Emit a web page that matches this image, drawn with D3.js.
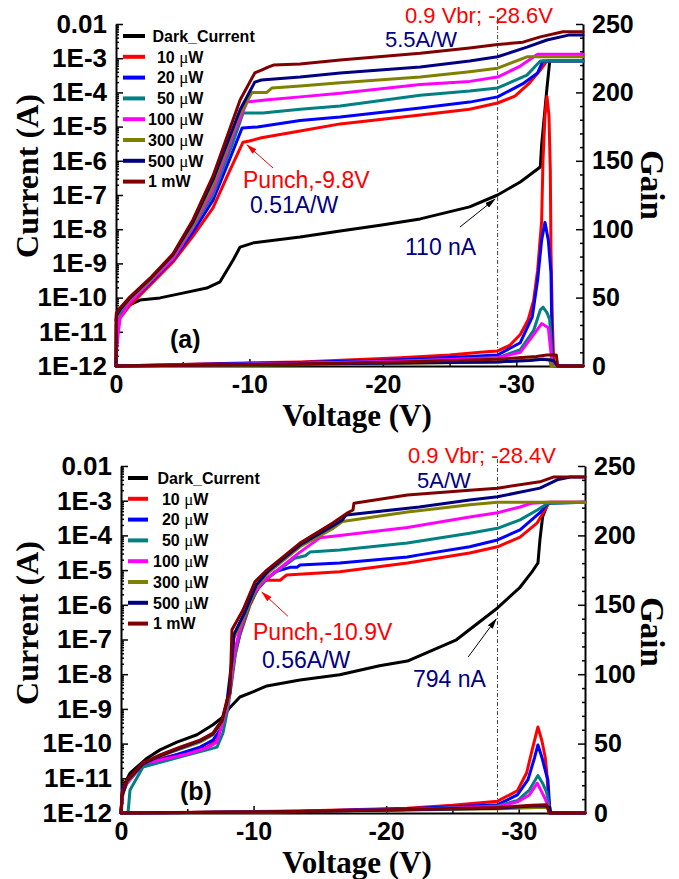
<!DOCTYPE html>
<html>
<head>
<meta charset="utf-8">
<script src="https://cdn.jsdelivr.net/npm/d3@7"></script>
<style>
  body { margin: 0; background: #fff; }
  svg text { white-space: pre; }
</style>
</head>
<body>
<svg id="chart" width="679" height="879"></svg>
<script>
// ---- tick values / labels ----
const voltageTicks = [0, -10, -20, -30];
const voltageMinorTicks = [-5, -15, -25];
const currentTicks = [1e-12, 1e-11, 1e-10, 1e-9, 1e-8, 1e-7, 1e-6, 1e-5, 1e-4, 1e-3, 1e-2];
const currentLabels = ["1E-12", "1E-11", "1E-10", "1E-9", "1E-8", "1E-7", "1E-6", "1E-5", "1E-4", "1E-3", "0.01"];
const gainTicks = [0, 50, 100, 150, 200, 250];
const gainMinorTicks = [10, 20, 30, 40, 60, 70, 80, 90, 110, 120, 130, 140, 160, 170, 180, 190, 210, 220, 230, 240];
const seriesNames = [" Dark_Current", "  10 μW", "  20 μW", "  50 μW", "100 μW", "300 μW", "500 μW", "1 mW"];
const seriesColors = ["#000000", "#ff0000", "#0000ff", "#008080", "#ff00ff", "#808000", "#000080", "#800000"];

// ---- panel (a): [voltage, current A] ----
const darkA = [[0,2.2e-11],[-0.15,3.8e-11],[-0.52,5.0e-11],[-1.8,8.5e-11],[-3.3,9.8e-11],[-5.0,1.35e-10],[-6.8,1.9e-10],[-7.8,2.9e-10],[-8.8,1.3e-9],[-9.3,3.0e-9],[-10.3,4.0e-9],[-13.8,5.9e-9],[-16.8,8.9e-9],[-19.8,1.3e-8],[-22.8,2.0e-8],[-26.5,4.5e-8],[-28.6,1.0e-7],[-30.3,2.4e-7],[-31.8,6.6e-7],[-31.9,2.9e-6],[-32.3,1.35e-4],[-32.5,7.8e-4]];
const curA10 = [[0,1e-12],[-0.07,8.1e-12],[-0.3,2.5e-11],[-1.05,6.0e-11],[-2.55,2.3e-10],[-4.27,1.1e-9],[-5.77,6.3e-9],[-7.27,4.2e-8],[-8.55,5.4e-7],[-9.52,3.5e-6],[-10.0,3.8e-6],[-10.9,4.7e-6],[-13.8,7.4e-6],[-16.8,1.2e-5],[-22.8,2.2e-5],[-26.5,3.2e-5],[-28.6,4.9e-5],[-29.9,7.8e-5],[-31.0,1.9e-4],[-31.8,4.5e-4],[-32.3,8.3e-4],[-35,8.3e-4]];
const curA20 = [[0,1e-12],[-0.07,1.0e-11],[-0.3,3.1e-11],[-1.05,7.4e-11],[-2.55,2.7e-10],[-4.27,1.3e-9],[-5.77,8.3e-9],[-7.27,7.1e-8],[-8.55,1.2e-6],[-9.45,9.1e-6],[-10.6,9.8e-6],[-13.8,1.5e-5],[-16.8,1.9e-5],[-22.8,3.5e-5],[-26.5,5.2e-5],[-28.6,7.4e-5],[-30.5,1.8e-4],[-31.6,3.7e-4],[-32.0,8.3e-4],[-35,8.3e-4]];
const curA50 = [[0,1e-12],[-0.02,1.6e-11],[-0.3,3.8e-11],[-1.05,8.5e-11],[-2.55,3.2e-10],[-4.27,1.4e-9],[-5.77,1.1e-8],[-7.27,1.0e-7],[-8.7,2.9e-6],[-9.52,2.5e-5],[-11.0,2.5e-5],[-13.8,3.2e-5],[-16.8,4.0e-5],[-22.8,8.3e-5],[-26.5,1.1e-4],[-28.6,1.35e-4],[-30.8,3.2e-4],[-31.8,8.3e-4],[-35,8.3e-4]];
const curA100 = [[0,1e-12],[-0.07,4.1e-12],[-0.3,2.5e-11],[-1.05,7.4e-11],[-2.55,2.9e-10],[-4.27,1.4e-9],[-5.77,1.15e-8],[-7.27,1.4e-7],[-8.92,7.9e-6],[-9.82,5.2e-5],[-11.2,6.0e-5],[-13.8,7.4e-5],[-16.8,9.5e-5],[-22.8,1.7e-4],[-26.5,2.1e-4],[-28.6,2.8e-4],[-30.3,5.9e-4],[-31.6,1.3e-3],[-35,1.3e-3]];
const curA300 = [[0,1e-12],[-0.02,2.5e-11],[-0.3,4.1e-11],[-1.05,9.1e-11],[-2.55,3.2e-10],[-4.27,1.7e-9],[-5.77,1.3e-8],[-7.27,1.95e-7],[-9.15,1.8e-5],[-10.2,1.0e-4],[-11.3,1.0e-4],[-11.7,1.35e-4],[-13.8,1.55e-4],[-16.8,1.9e-4],[-22.8,2.8e-4],[-26.5,4.0e-4],[-28.6,5.1e-4],[-30.8,1.1e-3],[-35,1.1e-3]];
const curA500 = [[0,1e-12],[-0.02,2.9e-11],[-0.3,4.4e-11],[-1.05,9.8e-11],[-2.55,3.5e-10],[-4.27,1.8e-9],[-5.77,1.6e-8],[-7.27,2.8e-7],[-9.3,3.1e-5],[-10.4,2.0e-4],[-10.9,2.3e-4],[-13.8,2.8e-4],[-16.8,3.7e-4],[-22.8,5.5e-4],[-26.5,8.3e-4],[-28.6,1.1e-3],[-30.8,2.1e-3],[-32.3,3.4e-3],[-34.0,4.8e-3],[-35,4.8e-3]];
const curA1m = [[0,1e-12],[-0.02,3.5e-11],[-0.3,5.0e-11],[-1.05,1.05e-10],[-2.55,3.7e-10],[-4.27,1.9e-9],[-5.77,1.9e-8],[-7.27,3.6e-7],[-9.3,6.0e-5],[-10.4,3.7e-4],[-10.9,4.5e-4],[-11.4,5.5e-4],[-11.8,6.3e-4],[-13.8,6.8e-4],[-16.8,8.9e-4],[-22.8,1.4e-3],[-26.5,2.0e-3],[-28.6,2.5e-3],[-30.5,2.95e-3],[-31.8,4.2e-3],[-33.5,5.9e-3],[-35,5.9e-3]];

// ---- panel (a): [voltage, gain] ----
const gainA10 = [[0,0],[-6.3,1.5],[-13.8,3],[-21.3,6],[-25,8],[-27.3,10],[-28.6,11],[-29.5,15],[-30.3,23],[-30.9,34],[-31.3,48],[-31.6,70],[-31.9,106],[-32.0,150],[-32.15,183],[-32.3,197],[-32.45,183],[-32.55,143],[-32.6,85],[-32.7,34],[-32.8,4],[-32.9,0],[-35,0]];
const gainA20 = [[0,0],[-6.3,1.2],[-13.8,2.5],[-21.3,4.5],[-26.5,7],[-28.6,8],[-30.3,17],[-31.2,36],[-31.6,63],[-31.9,92],[-32.15,105],[-32.4,92],[-32.6,68],[-32.7,4],[-32.8,0],[-35,0]];
const gainA50 = [[0,0],[-13.8,2],[-21.3,3.5],[-28.6,6],[-30.3,12],[-31.3,26],[-31.8,41],[-32.0,43],[-32.3,39],[-32.5,34],[-32.7,4],[-32.8,0],[-35,0]];
const gainA100 = [[0,0],[-13.8,2],[-21.3,3.5],[-28.6,6],[-30.3,10],[-31.3,23],[-31.9,31],[-32.4,28],[-32.7,0],[-35,0]];
const gainA300 = [[0,0],[-13.8,1],[-28.6,3],[-31.8,5],[-32.5,5],[-32.6,0],[-35,0]];
const gainA500 = [[0,0],[-13.8,1.5],[-28.6,3],[-31.0,4],[-32.0,5],[-32.8,4],[-33.1,0],[-35,0]];
const gainA1m = [[0,0],[-13.8,1.5],[-21.3,3],[-28.6,5],[-31.5,7],[-32.3,8],[-33.0,8],[-33.1,0],[-35,0]];

// ---- panel (b): [voltage, current A] ----
const darkB = [[0,1e-12],[-0.08,3.3e-12],[-0.3,7.3e-12],[-0.68,1.4e-11],[-1.96,3.8e-11],[-2.94,6.6e-11],[-4.22,1.1e-10],[-5.73,1.8e-10],[-6.94,3.5e-10],[-7.69,5.9e-10],[-8.22,1.1e-9],[-8.97,2.2e-9],[-9.95,3.1e-9],[-11.0,4.6e-9],[-13.5,6.8e-9],[-16.5,9.6e-9],[-19.5,1.75e-8],[-21.6,2.4e-8],[-25.3,9.8e-8],[-28.4,8.1e-7],[-30.1,3.2e-6],[-31.0,8.9e-6],[-31.45,1.6e-5],[-31.6,7.4e-5],[-31.8,3.4e-4],[-32.2,8.5e-4]];
const curB10 = [[0,1e-12],[-0.15,4.6e-12],[-0.45,7.3e-12],[-1.66,2.8e-11],[-2.94,3.8e-11],[-4.98,5.4e-11],[-6.49,7.9e-11],[-7.24,1.26e-10],[-7.62,3.9e-10],[-7.99,1.1e-9],[-8.22,3.5e-9],[-8.52,2.6e-8],[-8.97,1.35e-7],[-9.73,9.8e-7],[-10.33,3.0e-6],[-10.71,5.1e-6],[-12.0,5.1e-6],[-12.2,5.9e-6],[-12.5,7.2e-6],[-16.5,8.9e-6],[-21.6,1.6e-5],[-26.3,3.1e-5],[-28.4,4.7e-5],[-30.1,8.9e-5],[-31.4,2.3e-4],[-32.2,7.6e-4],[-32.35,9e-4],[-35,9e-4]];
const curB20 = [[0,1e-12],[-0.15,5.6e-12],[-1.66,2.4e-11],[-5.96,7.9e-11],[-6.94,1.26e-10],[-7.47,2.5e-10],[-7.99,1.1e-9],[-8.22,3.1e-9],[-8.6,4.4e-8],[-8.97,1.65e-7],[-9.73,1.2e-6],[-10.33,2.9e-6],[-10.9,5.1e-6],[-11.6,8.9e-6],[-12.75,1.2e-5],[-13.27,1.2e-5],[-13.5,1.4e-5],[-16.5,1.6e-5],[-21.6,2.4e-5],[-22.5,2.75e-5],[-26.3,4.7e-5],[-28.4,7.4e-5],[-30.1,1.45e-4],[-31.6,4.5e-4],[-32.2,8.5e-4],[-35,9e-4]];
const curB50 = [[0,1e-12],[-0.53,1e-12],[-0.68,4.6e-12],[-1.66,2.1e-11],[-4.98,4.7e-11],[-6.49,6.6e-11],[-7.24,7.9e-11],[-7.69,2.0e-10],[-8.07,1.07e-9],[-8.37,6.8e-9],[-8.67,5.0e-8],[-9.05,1.9e-7],[-9.8,1.3e-6],[-10.4,3.2e-6],[-10.8,4.9e-6],[-12.0,1.07e-5],[-13.1,2.2e-5],[-13.9,2.6e-5],[-14.25,3.3e-5],[-16.5,3.8e-5],[-21.6,6.0e-5],[-26.3,1.15e-4],[-28.4,1.6e-4],[-30.1,2.8e-4],[-31.4,5.4e-4],[-32.2,8.5e-4],[-35,9e-4]];
const curB100 = [[0,1e-12],[-0.15,4e-12],[-0.45,7e-12],[-1.66,2.6e-11],[-4.98,5.0e-11],[-6.49,7.5e-11],[-7.24,1.1e-10],[-7.62,3.5e-10],[-7.99,1.0e-9],[-8.22,3.5e-9],[-8.6,5.0e-8],[-8.97,1.9e-7],[-9.73,1.4e-6],[-10.33,3.0e-6],[-10.71,4.6e-6],[-12.0,1.15e-5],[-13.5,3.3e-5],[-15.0,8.5e-5],[-16.5,1.0e-4],[-21.6,1.7e-4],[-26.3,3.4e-4],[-28.4,4.5e-4],[-30.1,6.6e-4],[-31.0,8.5e-4],[-32.2,9e-4],[-35,9e-4]];
const curB300 = [[0,1e-12],[-0.08,2.9e-12],[-0.45,7.8e-12],[-1.66,2.6e-11],[-2.94,4.4e-11],[-4.45,7.0e-11],[-5.96,1.1e-10],[-6.94,1.8e-10],[-7.62,4.2e-10],[-7.99,1.3e-9],[-8.14,2.5e-9],[-8.37,1.9e-8],[-8.52,1.1e-7],[-9.35,5.4e-7],[-10.2,3.2e-6],[-11.1,8.3e-6],[-13.5,4.7e-5],[-16.0,1.6e-4],[-16.7,2.5e-4],[-21.6,4.7e-4],[-26.3,7.6e-4],[-28.4,9e-4],[-35,9e-4]];
const curB500 = [[0,1e-12],[-0.08,3.1e-12],[-0.45,8.4e-12],[-1.66,2.6e-11],[-2.94,4.4e-11],[-4.45,7.4e-11],[-5.96,1.2e-10],[-6.94,1.9e-10],[-7.62,4.5e-10],[-7.99,1.6e-9],[-8.37,2.6e-8],[-8.52,1.4e-7],[-9.35,6.2e-7],[-10.2,3.7e-6],[-11.1,9.4e-6],[-13.5,5.3e-5],[-16.0,1.9e-4],[-16.7,2.8e-4],[-17.0,3.9e-4],[-22.5,6.6e-4],[-26.3,1.05e-3],[-28.4,1.3e-3],[-31.6,2.3e-3],[-32.9,4.0e-3],[-33.9,4.8e-3],[-35,4.8e-3]];
const curB1m = [[0,1e-12],[-0.08,3.8e-12],[-0.45,8.9e-12],[-1.66,2.8e-11],[-2.94,4.7e-11],[-4.45,7.9e-11],[-5.96,1.26e-10],[-6.94,2.0e-10],[-7.62,4.8e-10],[-7.99,1.8e-9],[-8.22,2.9e-9],[-8.3,2.6e-8],[-8.37,1.9e-7],[-9.2,7.1e-7],[-10.1,4.6e-6],[-11.0,1.0e-5],[-13.5,6.0e-5],[-16.0,2.3e-4],[-17.1,4.5e-4],[-17.5,5.4e-4],[-17.57,8.5e-4],[-21.6,1.45e-3],[-26.3,2.0e-3],[-28.4,2.3e-3],[-31.6,3.5e-3],[-32.6,4.8e-3],[-35,4.8e-3]];

// ---- panel (b): [voltage, gain] ----
const gainB10 = [[0,0],[-5.96,0.5],[-13.5,1.5],[-21.6,3.5],[-25.0,5.5],[-28.4,8.5],[-29.9,16],[-30.6,29],[-31.0,45],[-31.45,62],[-31.75,52],[-32.0,40],[-32.1,31],[-32.3,4],[-32.35,0],[-35,0]];
const gainB20 = [[0,0],[-5.96,0.4],[-13.5,1.2],[-21.6,3],[-25,4.5],[-28.4,6],[-29.9,13],[-30.7,24],[-31.2,40],[-31.45,49],[-31.75,40],[-32.05,29],[-32.2,24],[-32.35,2],[-32.4,0],[-35,0]];
const gainB50 = [[0,0],[-13.5,1],[-21.6,2.5],[-28.4,5],[-29.9,9],[-30.8,16.5],[-31.45,27],[-31.8,21.5],[-32.1,15],[-32.35,2],[-32.4,0],[-35,0]];
const gainB100 = [[0,0],[-13.5,1],[-21.6,2.5],[-28.4,4.5],[-29.9,8],[-30.8,13],[-31.4,21.5],[-31.8,14],[-32.1,8],[-32.35,1],[-32.4,0],[-35,0]];
const gainB300 = [[0,0],[-13.5,1],[-28.4,3],[-31.5,4],[-32.2,4],[-32.3,0],[-35,0]];
const gainB500 = [[0,0],[-13.5,1],[-28.4,3.5],[-31.0,5],[-32.0,5],[-32.35,4],[-32.4,0],[-35,0]];
const gainB1m = [[0,0],[-13.5,1],[-21.6,2.5],[-28.4,4],[-31.0,5.5],[-32.1,6],[-32.3,0],[-35,0]];

// 0.9 Vbr markers and arrow targets [voltage, current]
const vbrA = -28.6, vbrB = -28.4;
const punchTipA = [-9.82, 2.9e-6], darkTipA = [-28.4, 7.6e-8];
const punchTipB = [-10.63, 2.3e-6], darkTipB = [-28.3, 3.9e-7];

const SANS = "'Liberation Sans', Arial, sans-serif";
const SERIF = "'Liberation Serif', 'Times New Roman', serif";

class IVGainChart {
    constructor(_config, _data) {
        this.config = {
            parentElement: _config.parentElement,
            id: _config.id,
            left: _config.left, right: _config.right,
            top: _config.top, bottom: _config.bottom,
            legend: _config.legend,
            notes: _config.notes,
            arrows: _config.arrows,
            vbr: _config.vbr,
            titles: _config.titles
        };
        this.data = _data;
        this.initVis();
    }

    initVis() {
        let vis = this;
        const c = vis.config;

        vis.xScale = d3.scaleLinear().domain([0, -35]).range([c.left, c.right]);
        vis.yScale = d3.scaleLog().domain([1e-12, 1e-2]).range([c.bottom, c.top]);
        vis.gScale = d3.scaleLinear().domain([0, 250]).range([c.bottom, c.top]);

        vis.svg = d3.select(c.parentElement);
        vis.chart = vis.svg.append('g');

        // minor ticks first, no labels
        const logMinor = [];
        for (let e = -12; e < -2; e++) for (let m = 2; m < 10; m++) logMinor.push(m * Math.pow(10, e));

        vis.chart.append('g')
            .attr('transform', `translate(0,${c.bottom})`)
            .call(d3.axisBottom(vis.xScale).tickValues(voltageMinorTicks).tickSize(-4).tickFormat(''))
            .call(g => g.select('.domain').remove());
        vis.chart.append('g')
            .attr('transform', `translate(${c.left},0)`)
            .call(d3.axisLeft(vis.yScale).tickValues(logMinor).tickSize(-3).tickFormat(''))
            .call(g => g.select('.domain').remove());
        vis.chart.append('g')
            .attr('transform', `translate(${c.right},0)`)
            .call(d3.axisRight(vis.gScale).tickValues(gainMinorTicks).tickSize(-3).tickFormat(''))
            .call(g => g.select('.domain').remove());

        vis.xAxisG = vis.chart.append('g')
            .attr('transform', `translate(0,${c.bottom})`)
            .call(d3.axisBottom(vis.xScale).tickValues(voltageTicks).tickSize(-7).tickSizeOuter(0).tickPadding(9)
                .tickFormat(d => d === 0 ? '0' : String(d)));
        vis.yAxisG = vis.chart.append('g')
            .attr('transform', `translate(${c.left},0)`)
            .call(d3.axisLeft(vis.yScale).tickValues(currentTicks).tickSize(-7).tickSizeOuter(0).tickPadding(9)
                .tickFormat((d, i) => currentLabels[i]));
        vis.gAxisG = vis.chart.append('g')
            .attr('transform', `translate(${c.right},0)`)
            .call(d3.axisRight(vis.gScale).tickValues(gainTicks).tickSize(-7).tickSizeOuter(0).tickPadding(9));

        [vis.xAxisG, vis.yAxisG, vis.gAxisG].forEach(g => {
            g.attr('font-family', SANS).attr('font-weight', 'bold').attr('font-size', 25);
            g.select('.domain').attr('stroke-width', 2);
        });
        vis.yAxisG.attr('font-size', 26);
        vis.chart.selectAll('.tick line').attr('stroke-width', 1.5);

        // axis titles
        vis.chart.append('text')
            .attr('x', c.titles.x[0]).attr('y', c.titles.x[1])
            .attr('text-anchor', 'middle')
            .attr('font-family', SERIF).attr('font-weight', 'bold').attr('font-size', 31)
            .text('Voltage (V)');
        vis.chart.append('text')
            .attr('transform', `translate(${c.titles.y[0]},${c.titles.y[1]}) rotate(-90)`)
            .attr('text-anchor', 'middle')
            .attr('font-family', SERIF).attr('font-weight', 'bold').attr('font-size', 32)
            .text('Current (A)');
        vis.chart.append('text')
            .attr('transform', `translate(${c.titles.g[0]},${c.titles.g[1]}) rotate(90)`)
            .attr('text-anchor', 'middle')
            .attr('font-family', SERIF).attr('font-weight', 'bold').attr('font-size', 33)
            .text('Gain');

        vis.updateVis();
    }

    updateVis() {
        let vis = this;
        const c = vis.config;

        vis.line = d3.line().x(d => vis.xScale(d[0])).y(d => vis.yScale(d[1]));
        vis.gLine = d3.line().x(d => vis.xScale(d[0])).y(d => vis.gScale(d[1]));

        // 0.9 Vbr dash-dot line
        vis.chart.append('line')
            .attr('x1', vis.xScale(c.vbr)).attr('x2', vis.xScale(c.vbr))
            .attr('y1', c.top - 7).attr('y2', c.bottom)
            .attr('stroke', '#444').attr('stroke-width', 1)
            .attr('stroke-dasharray', '4,2,1,2');

        const curves = vis.chart.append('g').attr('fill', 'none')
            .attr('stroke-linejoin', 'round').attr('stroke-linecap', 'round');
        curves.append('path')
            .attr('d', vis.line(vis.data.dark))
            .attr('stroke', seriesColors[0]).attr('stroke-width', 3);
        vis.data.current.forEach((s, i) => {
            curves.append('path')
                .attr('d', vis.line(s))
                .attr('stroke', seriesColors[i + 1]).attr('stroke-width', 3);
        });
        vis.data.gain.forEach((s, i) => {
            curves.append('path')
                .attr('d', vis.gLine(s))
                .attr('stroke', seriesColors[i + 1]).attr('stroke-width', 3);
        });

        // legend
        const lg = vis.chart.append('g');
        seriesNames.forEach((name, i) => {
            const y = c.legend.y0 + i * c.legend.dy;
            lg.append('line')
                .attr('x1', c.legend.x1).attr('x2', c.legend.x2)
                .attr('y1', y).attr('y2', y)
                .attr('stroke', seriesColors[i]).attr('stroke-width', 4);
            const t = lg.append('text')
                .attr('x', c.legend.tx).attr('y', y).attr('dy', '0.36em')
                .attr('font-family', SANS).attr('font-weight', 'bold').attr('font-size', 16);
            const parts = name.split('μ');
            t.append('tspan').text(parts[0]);
            if (parts.length > 1) {
                t.append('tspan').attr('font-family', SERIF).attr('font-weight', 'normal').attr('font-size', 17).text('μ');
                t.append('tspan').text(parts[1]);
            }
        });

        // text notes
        c.notes.forEach(n => {
            vis.chart.append('text')
                .attr('x', n.x).attr('y', n.y)
                .attr('fill', n.color)
                .attr('font-family', SANS)
                .attr('font-weight', n.bold ? 'bold' : 'normal')
                .attr('font-size', n.size)
                .text(n.text);
        });

        // arrows
        c.arrows.forEach((a, i) => {
            const id = `${c.id}-arrow-${i}`;
            vis.svg.append('defs').append('marker')
                .attr('id', id).attr('markerUnits', 'userSpaceOnUse')
                .attr('markerWidth', 11).attr('markerHeight', 6)
                .attr('refX', 10).attr('refY', 3).attr('orient', 'auto')
                .append('path').attr('d', 'M0,0L11,3L0,6Z').attr('fill', a.color);
            const tx = vis.xScale(a.tip[0]), ty = vis.yScale(a.tip[1]);
            vis.chart.append('line')
                .attr('x1', tx + a.tail[0]).attr('y1', ty + a.tail[1])
                .attr('x2', tx).attr('y2', ty)
                .attr('stroke', a.color).attr('stroke-width', 1)
                .attr('marker-end', `url(#${id})`);
        });
    }
}

const RED = '#ff0000', NAVY = '#000080';

const chartA = new IVGainChart({
    parentElement: '#chart',
    id: 'a',
    left: 116, right: 583, top: 24, bottom: 366,
    legend: { x1: 123, x2: 145, tx: 148, y0: 36, dy: 20.8 },
    vbr: vbrA,
    titles: { x: [357, 426], y: [38, 176], g: [641, 185] },
    notes: [
        { text: '0.9 Vbr; -28.6V', x: 405, y: 23, color: RED, size: 22 },
        { text: '5.5A/W', x: 385, y: 47, color: NAVY, size: 22 },
        { text: 'Punch,-9.8V', x: 243, y: 188, color: RED, size: 23 },
        { text: '0.51A/W', x: 250, y: 213, color: NAVY, size: 23 },
        { text: '110 nA', x: 405, y: 255, color: NAVY, size: 23 },
        { text: '(a)', x: 170, y: 348, color: '#000', size: 25, bold: true }
    ],
    arrows: [
        { tip: punchTipA, tail: [26, 23], color: RED },
        { tip: darkTipA, tail: [-35, 28], color: '#000' }
    ]
}, {
    dark: darkA,
    current: [curA10, curA20, curA50, curA100, curA300, curA500, curA1m],
    gain: [gainA10, gainA20, gainA50, gainA100, gainA300, gainA500, gainA1m]
});

const chartB = new IVGainChart({
    parentElement: '#chart',
    id: 'b',
    left: 121, right: 585, top: 466, bottom: 813,
    legend: { x1: 128, x2: 148, tx: 153, y0: 478, dy: 20.8 },
    vbr: vbrB,
    titles: { x: [357, 873], y: [38, 623], g: [641, 632] },
    notes: [
        { text: '0.9 Vbr; -28.4V', x: 408, y: 463, color: RED, size: 22 },
        { text: '5A/W', x: 417, y: 488, color: NAVY, size: 22 },
        { text: 'Punch,-10.9V', x: 253, y: 640, color: RED, size: 23 },
        { text: '0.56A/W', x: 262, y: 668, color: NAVY, size: 23 },
        { text: '794 nA', x: 413, y: 687, color: NAVY, size: 23 },
        { text: '(b)', x: 180, y: 800, color: '#000', size: 25, bold: true }
    ],
    arrows: [
        { tip: punchTipB, tail: [26, 24], color: RED },
        { tip: darkTipB, tail: [-28, 38], color: '#000' }
    ]
}, {
    dark: darkB,
    current: [curB10, curB20, curB50, curB100, curB300, curB500, curB1m],
    gain: [gainB10, gainB20, gainB50, gainB100, gainB300, gainB500, gainB1m]
});
</script>
</body>
</html>
